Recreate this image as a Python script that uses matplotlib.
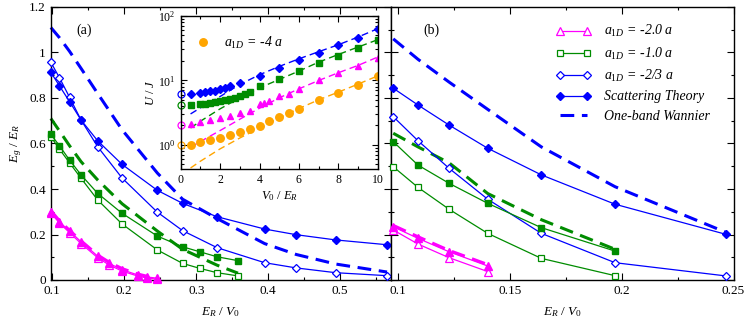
import matplotlib
matplotlib.use("Agg")
import matplotlib.pyplot as plt
from matplotlib.ticker import MultipleLocator, FuncFormatter, LogLocator, NullFormatter

plt.rcParams["font.family"] = ["Liberation Serif", "DejaVu Serif"]
plt.rcParams["mathtext.fontset"] = "custom"
plt.rcParams["mathtext.rm"] = "Liberation Serif"
plt.rcParams["mathtext.it"] = "Liberation Serif:italic"
plt.rcParams["font.size"] = 9.5

BLUE = "#0000ff"
GREEN = "#008c00"
MAGENTA = "#ff00ff"
ORANGE = "#ffa500"

# ---- panel (a): E_g / E_R vs E_R / V0
xa_blue = [0.098, 0.110, 0.124, 0.140, 0.163, 0.197, 0.246, 0.281, 0.329, 0.395, 0.439, 0.494, 0.565]
a_blue_scatt = [0.913, 0.853, 0.784, 0.703, 0.612, 0.508, 0.394, 0.337, 0.278, 0.224, 0.199, 0.176, 0.155]
a_blue_exact = [0.957, 0.889, 0.803, 0.703, 0.586, 0.448, 0.298, 0.217, 0.142, 0.076, 0.053, 0.032, 0.019]
a_blue_wann = [1.11, 1.065, 1.005, 0.93, 0.82, 0.66, 0.47, 0.355, 0.27, 0.16, 0.112, 0.07, 0.035]

xa_green = [0.098, 0.110, 0.124, 0.140, 0.163, 0.197, 0.246, 0.281, 0.305, 0.329, 0.358]
a_green_scatt = [0.64, 0.59, 0.527, 0.462, 0.381, 0.293, 0.193, 0.146, 0.124, 0.102, 0.085]
a_green_exact = [0.63, 0.575, 0.515, 0.447, 0.352, 0.246, 0.132, 0.073, 0.051, 0.032, 0.018]
a_green_wann = [0.71, 0.655, 0.59, 0.52, 0.44, 0.335, 0.215, 0.135, 0.10, 0.065, 0.03]

xa_mag = [0.098, 0.110, 0.124, 0.140, 0.163, 0.179, 0.197, 0.219, 0.232, 0.246]
a_mag_scatt = [0.30, 0.255, 0.215, 0.168, 0.105, 0.073, 0.045, 0.022, 0.013, 0.008]
a_mag_exact = [0.295, 0.25, 0.208, 0.16, 0.098, 0.066, 0.039, 0.017, 0.008, 0.004]
a_mag_wann = [0.305, 0.26, 0.218, 0.172, 0.11, 0.078, 0.05, 0.026, 0.016, 0.01]

# ---- panel (b)
xb = [0.0977, 0.1088, 0.1227, 0.140, 0.164, 0.197, 0.2465]
b_blue_scatt = [0.843, 0.769, 0.681, 0.579, 0.462, 0.333, 0.201]
b_blue_exact = [0.718, 0.612, 0.491, 0.355, 0.205, 0.076, 0.018]
b_blue_wann = [1.06, 0.97, 0.87, 0.75, 0.585, 0.41, 0.21]
b_green_scatt = [0.608, 0.505, 0.425, 0.337, 0.230, 0.127]
b_green_exact = [0.498, 0.407, 0.311, 0.205, 0.095, 0.019]
b_green_wann = [0.645, 0.585, 0.515, 0.38, 0.265, 0.135]
b_mag_scatt = [0.234, 0.183, 0.124, 0.0615]
b_mag_exact = [0.22, 0.158, 0.098, 0.037]
b_mag_wann = [0.24, 0.19, 0.13, 0.068]

# ---- inset: U / J vs V0 / E_R
xi_blue = [0.5, 1, 1.25, 1.5, 1.75, 2, 2.25, 2.5, 3, 4, 5, 6, 7, 8, 9, 10]
i_blue = [6.18, 6.4, 6.56, 6.79, 6.95, 7.3, 7.65, 8.12, 9.04, 11.7, 15.6, 20.3, 26.7, 34.7, 45.6, 61.4]
xi_green = [0.5, 1, 1.25, 1.5, 1.75, 2, 2.25, 2.5, 2.75, 3, 3.25, 3.5, 4, 5, 6, 7, 8, 9, 10]
i_green = [4.22, 4.32, 4.37, 4.48, 4.59, 4.75, 4.93, 5.1, 5.35, 5.68, 6.1, 6.56,
           8.12, 10.4, 13.9, 18.5, 24.0, 31.5, 41.5]
xi_mag = [0.5, 1, 1.5, 2, 2.5, 3, 3.5, 4, 4.25, 4.5, 5, 5.5, 6, 7, 8, 9, 10]
i_mag = [2.12, 2.25, 2.44, 2.62, 2.85, 3.1, 3.41, 4.32, 4.53, 4.75, 5.62, 6.18, 7.38, 9.94, 12.9, 16.8, 22.1]
xi_orange = [0.5, 1, 1.5, 2, 2.5, 3, 3.5, 4, 4.5, 5, 5.5, 6, 7, 8, 9, 10]
i_orange = [1.0, 1.13, 1.2, 1.28, 1.41, 1.57, 1.77, 1.99, 2.33, 2.69, 3.13, 3.61, 4.99, 6.4, 8.5, 11.5]
xi_wann = [0.5, 1, 2, 3, 4, 5, 6, 7, 8, 9, 10]
i_blue_wann = [3.02, 3.75, 5.62, 8.62, 12.2, 16.4, 21.5, 27.7, 35.5, 46.7, 62.9]
i_green_wann = [1.83, 2.33, 3.62, 5.35, 7.65, 10.3, 13.9, 19.1, 25.1, 32.7, 42.5]
i_mag_wann = [0.92, 1.13, 1.67, 2.5, 3.7, 5.35, 7.38, 9.94, 13.1, 17.0, 22.9]
i_orange_wann = [0.44, 0.56, 0.87, 1.28, 1.83, 2.62, 3.66, 4.99, 6.56, 8.73, 11.7]
i_v0_zero = [6.1, 4.1, 2.0, 1.0]  # open circles at V0 = 0
i_zero_colors = [BLUE, GREEN, MAGENTA, ORANGE]

DASH = dict(ls="--", lw=2.2, dashes=(4.5, 2.5))


def style_main(ax):
    ax.set_ylim(0, 1.2)
    ax.yaxis.set_major_locator(MultipleLocator(0.2))
    ax.yaxis.set_minor_locator(MultipleLocator(0.1))
    ax.tick_params(which="both", direction="in", top=True, right=True, width=0.8)
    ax.tick_params(which="major", length=5)
    ax.tick_params(which="minor", length=2.5)
    for s in ax.spines.values():
        s.set_linewidth(1.0)


def draw_set(ax, x, exact, scatt, wann, color, marker, ms, label=None, wann_label=None, scatt_label=None):
    ax.plot(x, wann, color=color, label=wann_label, clip_on=False, zorder=2, **DASH)
    ax.plot(x, exact, color=color, lw=0.9, marker=marker, ms=ms, mfc="white", mec=color,
            mew=0.9, label=label, clip_on=False, zorder=3)
    ax.plot(x, scatt, color=color, lw=0.9, marker=marker, ms=ms, mfc=color, mec=color,
            label=scatt_label, clip_on=False, zorder=4)


fig = plt.figure(figsize=(7.47, 3.21), dpi=100)
bottom, height = 41 / 321, 273 / 321
axa = fig.add_axes([50.7 / 747, bottom, 340.3 / 747, height])
axb = fig.add_axes([391 / 747, bottom, 342.5 / 747, height])

fmt = FuncFormatter(lambda v, p: "%g" % round(v, 3))

# panel (a)
draw_set(axa, xa_mag, a_mag_exact, a_mag_scatt, a_mag_wann, MAGENTA, "^", 5.2)
draw_set(axa, xa_green, a_green_exact, a_green_scatt, a_green_wann, GREEN, "s", 4.4)
draw_set(axa, xa_blue, a_blue_exact, a_blue_scatt, a_blue_wann, BLUE, "D", 4.0)
style_main(axa)
axa.set_xlim(0.0978, 0.5705)
axa.xaxis.set_major_locator(MultipleLocator(0.1))
axa.xaxis.set_minor_locator(MultipleLocator(0.05))
axa.xaxis.set_major_formatter(fmt)
axa.yaxis.set_major_formatter(fmt)
axa.set_xlabel(r"$E_R$ / $V_\mathit{0}$", labelpad=6)
axa.set_ylabel(r"$E_g$ / $E_R$", labelpad=4)
axa.text(0.075, 0.9, "(a)", transform=axa.transAxes, fontsize=10)

# panel (b)
draw_set(axb, xb[:4], b_mag_exact, b_mag_scatt, b_mag_wann, MAGENTA, "^", 5.2,
         label=r"$a_{\mathit{1D}}$ = -2.0 $a$")
draw_set(axb, xb[:6], b_green_exact, b_green_scatt, b_green_wann, GREEN, "s", 4.4,
         label=r"$a_{\mathit{1D}}$ = -1.0 $a$")
draw_set(axb, xb, b_blue_exact, b_blue_scatt, b_blue_wann, BLUE, "D", 4.0,
         label=r"$a_{\mathit{1D}}$ = -2/3 $a$", scatt_label="Scattering Theory",
         wann_label="One-band Wannier")
style_main(axb)
axb.set_xlim(0.0967, 0.25)
axb.xaxis.set_major_locator(MultipleLocator(0.05))
axb.xaxis.set_minor_locator(MultipleLocator(0.025))
axb.xaxis.set_major_formatter(fmt)
axb.yaxis.set_major_formatter(NullFormatter())
axb.set_xlabel(r"$E_R$ / $V_\mathit{0}$", labelpad=6)
axb.text(0.095, 0.9, "(b)", transform=axb.transAxes, fontsize=10)

handles, labels = axb.get_legend_handles_labels()
order = ["-2.0", "-1.0", "-2/3", "Scattering", "Wannier"]
picked = []
for key in order:
    for h, l in zip(handles, labels):
        if key in l:
            picked.append((h, l))
            break
leg = axb.legend([h for h, l in picked], [l for h, l in picked], loc="upper left",
                 bbox_to_anchor=(0.48, 0.94), frameon=False, numpoints=2, handlelength=2.6,
                 handletextpad=0.9, labelspacing=0.45, borderaxespad=0, borderpad=0,
                 prop={"style": "italic", "size": 10})

# inset
axi = fig.add_axes([180.7 / 747, 1 - 169.3 / 321, 197 / 747, 153.6 / 321])
axi.set_yscale("log")
idash = dict(ls="--", lw=1.0, dashes=(5, 3))
axi.plot(xi_wann, i_blue_wann, color=BLUE, **idash)
axi.plot(xi_wann, i_green_wann, color=GREEN, **idash)
axi.plot(xi_wann, i_mag_wann, color=MAGENTA, **idash)
axi.plot(xi_wann, i_orange_wann, color=ORANGE, **idash)
axi.plot(xi_blue, i_blue, "D", color=BLUE, ms=4.4, ls="none")
axi.plot(xi_green, i_green, "s", color=GREEN, ms=4.4, ls="none")
axi.plot(xi_mag, i_mag, "^", color=MAGENTA, ms=5.0, ls="none")
axi.plot(xi_orange, i_orange, "o", color=ORANGE, ms=5.4, ls="none",
         label=r"$a_{\mathit{1D}}$ = -4 $a$")
for v, c in zip(i_v0_zero, i_zero_colors):
    axi.plot([0], [v], "o", ms=5, mfc="none", mec=c, mew=0.9, clip_on=False)
axi.set_xlim(0, 10)
axi.set_ylim(0.42, 100)
axi.xaxis.set_major_locator(MultipleLocator(2))
axi.xaxis.set_minor_locator(MultipleLocator(1))
axi.yaxis.set_major_locator(LogLocator(base=10))
axi.yaxis.set_minor_locator(LogLocator(base=10, subs=range(2, 10)))
axi.yaxis.set_minor_formatter(NullFormatter())
axi.tick_params(which="both", direction="in", top=True, right=True, width=0.8, labelsize=8.5)
axi.tick_params(which="major", length=4)
axi.tick_params(which="minor", length=2)
for s in axi.spines.values():
    s.set_linewidth(1.0)
axi.set_xlabel(r"$V_\mathit{0}$ / $E_R$", fontsize=9, labelpad=2)
axi.set_ylabel(r"$U$ / $J$", fontsize=9, labelpad=1)
axi.legend(loc="center left", bbox_to_anchor=(0.08, 0.82), frameon=False, numpoints=1,
           handlelength=1.0, handletextpad=1.0, borderaxespad=0, borderpad=0,
           prop={"style": "italic", "size": 10})

fig.savefig("out.png", dpi=100)
